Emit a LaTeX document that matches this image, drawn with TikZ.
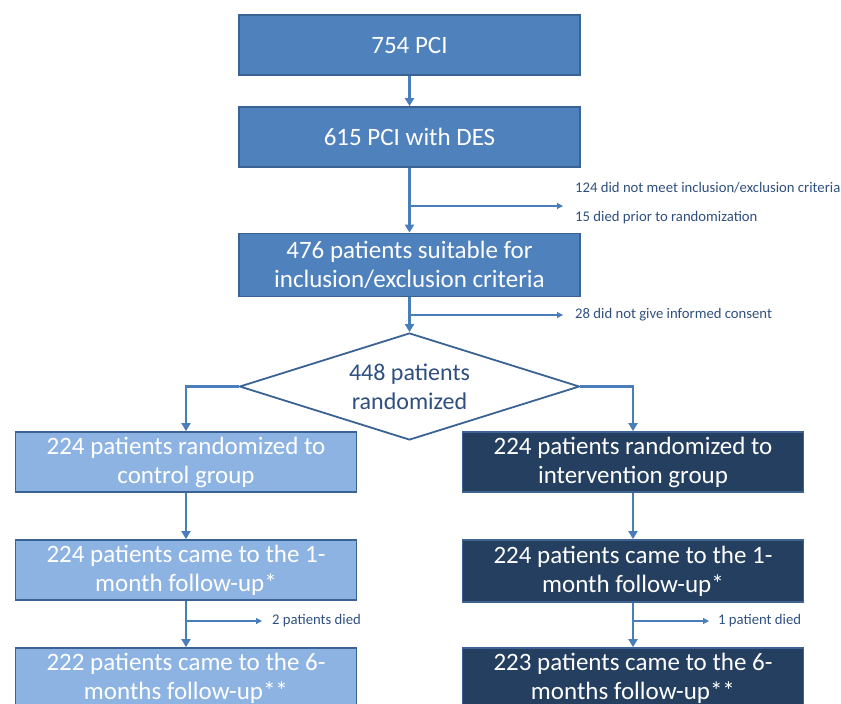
\documentclass[tikz,border=0pt]{standalone}
\usepackage{fontspec}
\setmainfont{Carlito}
\usepackage{tikz}
\usetikzlibrary{arrows.meta,calc,positioning,shapes.geometric}
\usepackage{xcolor}
\definecolor{boxblue}{HTML}{4F81BD}
\definecolor{boxedge}{HTML}{3A6394}
\definecolor{lightbox}{HTML}{8DB3E2}
\definecolor{navybox}{HTML}{243F60}
\definecolor{navyedge}{HTML}{3F6494}
\definecolor{arrowblue}{HTML}{4A7EBB}
\definecolor{notetext}{HTML}{2F4F7F}

\begin{document}
\begin{tikzpicture}[x=1pt,y=-1pt,
  flowbox/.style={draw=boxedge,line width=1.8pt,fill=boxblue,text=white,
    minimum width=341pt,minimum height=60pt,align=center,inner sep=2pt,
    font=\fontsize{25}{29}\selectfont},
  ctrlbox/.style={flowbox,fill=lightbox,draw=boxedge},
  intvbox/.style={flowbox,fill=navybox,draw=navyedge},
  main/.style={draw=arrowblue,line width=2.2pt,-{Triangle[width=9pt,length=8pt]}},
  side/.style={draw=arrowblue,line width=1.1pt,-{Triangle[width=6pt,length=6pt]}},
  note/.style={anchor=west,text=notetext,font=\fontsize{14.7}{17}\selectfont,inner sep=0pt}]
  \clip (0,0) rectangle (841,704);
  \useasboundingbox (0,0) rectangle (841,704);
  % top column
  \node[flowbox] (pci) at (409.5,45) {754 PCI};
  \node[flowbox] (des) at (409.5,137) {615 PCI with DES};
  \node[flowbox,minimum height=63pt] (suit) at (409.5,265)
    {476 patients suitable for\\inclusion/exclusion criteria};
  \node[diamond,draw=boxedge,line width=1.8pt,fill=white,inner sep=0pt,
    minimum width=340pt,minimum height=107pt,aspect=3.2,align=center,
    text=notetext,font=\fontsize{24}{29}\selectfont] (rand) at (409.5,386.5)
    {448 patients\\randomized};
  % two arms
  \node[ctrlbox] (ctrl) at (186,462) {224 patients randomized to\\control group};
  \node[intvbox] (intv) at (633,462) {224 patients randomized to\\intervention group};
  \node[ctrlbox] (ctrlone) at (186,570) {224 patients came to the 1-\\month follow-up*};
  \node[intvbox,minimum height=62pt] (intvone) at (633,571) {224 patients came to the 1-\\month follow-up*};
  \node[ctrlbox] (ctrlsix) at (186,678) {222 patients came to the 6-\\months follow-up**};
  \node[intvbox] (intvsix) at (633,678) {223 patients came to the 6-\\months follow-up**};
  % exclusions
  \coordinate (x1) at (409.5,206);
  \coordinate (x1e) at (563,206);
  \node[note] (lost1) at (575,188) {124 did not meet inclusion/exclusion criteria};
  \node[note] (lost2) at (575,218) {15 died prior to randomization};
  \coordinate (x2) at (409.5,315);
  \coordinate (x2e) at (563,315);
  \node[note] (lost3) at (575,315) {28 did not give informed consent};
  \coordinate (x3) at (186,621);
  \coordinate (x3e) at (262,621);
  \node[note] (died1) at (272,621) {2 patients died};
  \coordinate (x4) at (633,621);
  \coordinate (x4e) at (709,621);
  \node[note] (died2) at (718,621) {1 patient died};
  % arrows
  \draw[main] (pci) -- (des);
  \draw[main] (des) -- (suit);
  \draw[main] (suit) -- (rand);
  \draw[main] (rand.west) -| (ctrl.north);
  \draw[main] (rand.east) -| (intv.north);
  \draw[main] (ctrl) -- (ctrlone);
  \draw[main] (intv) -- (intvone);
  \draw[main] (ctrlone) -- (ctrlsix);
  \draw[main] (intvone) -- (intvsix);
  \draw[side] (x1) -- (x1e);
  \draw[side] (x2) -- (x2e);
  \draw[side] (x3) -- (x3e);
  \draw[side] (x4) -- (x4e);
\end{tikzpicture}
\end{document}
